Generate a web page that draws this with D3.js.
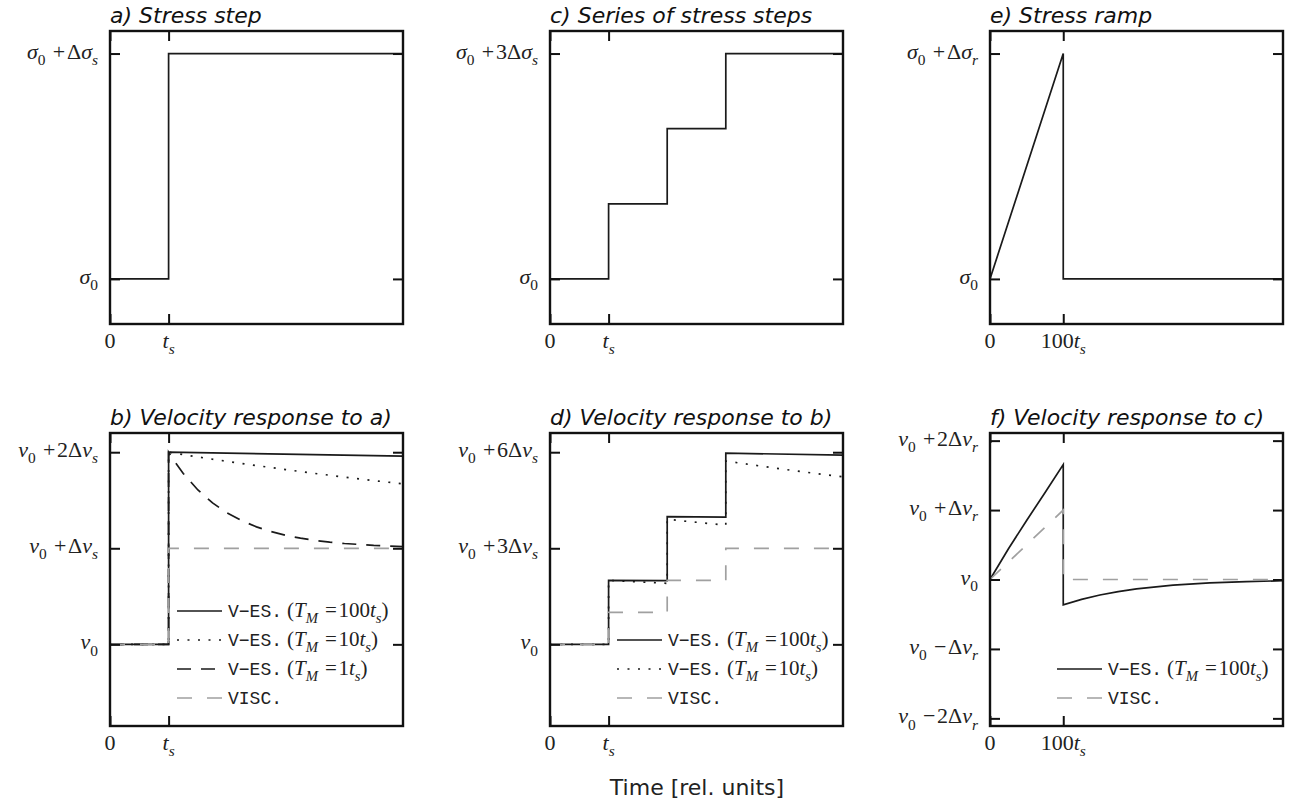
<!DOCTYPE html>
<html>
<head>
<meta charset="utf-8">
<script src="https://cdn.jsdelivr.net/npm/d3@7"></script>
<style>
  body { margin: 0; background: #fff; }
  text { white-space: pre; }
</style>
</head>
<body>
<svg id="chart" width="1291" height="809"></svg>
<script>
// ---- data ----
// a) stress step
const aTime = [0, 1, 1, 5];
const aStress = [0, 0, 1, 1];
// c) series of stress steps
const cTime = [0, 1, 1, 2, 2, 3, 3, 5];
const cStress = [0, 0, 1, 1, 2, 2, 3, 3];
// e) stress ramp
const eTime = [0, 100, 100, 400];
const eStress = [0, 1, 0, 0];

// b) velocity response to a)
const bTime100 = [0, 1, 1, 5];
const bVel100 = [0, 0, 2, 1.96];
const bTime10 = [0, 1, 1, 1.5, 2, 2.5, 3, 3.5, 4, 4.5, 5];
const bVel10 = [0, 0, 2, 1.95, 1.905, 1.861, 1.819, 1.779, 1.741, 1.705, 1.67];
const bTime1 = [0, 1, 1, 1.1, 1.25, 1.5, 1.75, 2, 2.25, 2.5, 2.75, 3, 3.25, 3.5, 3.75, 4, 4.5, 5];
const bVel1 = [0, 0, 2, 1.905, 1.779, 1.607, 1.472, 1.368, 1.287, 1.223, 1.174, 1.135, 1.105, 1.082, 1.064, 1.05, 1.03, 1.018];
const bTimeVisc = [0, 1, 1, 5];
const bVelVisc = [0, 0, 1, 1];

// d) velocity response to b)
const dTime100 = [0, 1, 1, 2, 2, 3, 3, 5];
const dVel100 = [0, 0, 2, 1.99, 3.99, 3.97, 5.97, 5.91];
const dTime10 = [0, 1, 1, 1.5, 2, 2, 2.5, 3, 3, 3.5, 4, 4.5, 5];
const dVel10 = [0, 0, 2, 1.951, 1.905, 3.905, 3.812, 3.724, 5.724, 5.591, 5.465, 5.345, 5.23];
const dTimeVisc = [0, 1, 1, 2, 2, 3, 3, 5];
const dVelVisc = [0, 0, 1, 1, 2, 2, 3, 3];

// f) velocity response to c)
const fTime100 = [0, 25, 50, 75, 100, 100, 125, 150, 175, 200, 250, 300, 350, 400];
const fVel100 = [0, 0.44, 0.85, 1.25, 1.655, -0.365, -0.287, -0.223, -0.174, -0.135, -0.082, -0.05, -0.03, -0.018];
const fTimeVisc = [0, 100, 100, 400];
const fVelVisc = [0, 1, 0, 0];

// ticks
const stepXTicks = [0, 1];
const stepXLabels = ["0", "t_s"];
const rampXTicks = [0, 100];
const rampXLabels = ["0", "100t_s"];
const aYTicks = [0, 1];
const aYLabels = ["σ_0", "σ_0 +Δσ_s"];
const cYTicks = [0, 3];
const cYLabels = ["σ_0", "σ_0 +3Δσ_s"];
const eYTicks = [0, 1];
const eYLabels = ["σ_0", "σ_0 +Δσ_r"];
const bYTicks = [0, 1, 2];
const bYLabels = ["v_0", "v_0 +Δv_s", "v_0 +2Δv_s"];
const dYTicks = [0, 3, 6];
const dYLabels = ["v_0", "v_0 +3Δv_s", "v_0 +6Δv_s"];
const fYTicks = [-2, -1, 0, 1, 2];
const fYLabels = ["v_0 −2Δv_r", "v_0 −Δv_r", "v_0", "v_0 +Δv_r", "v_0 +2Δv_r"];

// legend names: [typewriter part, math part]
const nameVes100 = ["V−ES.", "(T_M =100t_s)"];
const nameVes10 = ["V−ES.", "(T_M =10t_s)"];
const nameVes1 = ["V−ES.", "(T_M =1t_s)"];
const nameVisc = ["VISC.", ""];

// ---- styles ----
const styles = {
  solid:  {stroke: "#1a1a1a", dash: null},
  dotted: {stroke: "#1a1a1a", dash: "2,8.5"},
  dashed: {stroke: "#1a1a1a", dash: "14,10"},
  grey:   {stroke: "#a0a0a0", dash: "15,15"}
};

const svg = d3.select("#chart");
const size = 293;
const colX = [110, 550, 990];
const rowY = [31, 433];
const titleSize = 22;
const tickSize = 22;

// write a label with simple _sub markup, italic letters like TeX math
function mathText(text, str, fsize) {
  const runs = [];
  let i = 0;
  while (i < str.length) {
    let chars, sub = false;
    if (str[i] === "_") {
      sub = true;
      if (str[i + 1] === "{") { const j = str.indexOf("}", i); chars = str.slice(i + 2, j); i = j + 1; }
      else { chars = str[i + 1]; i += 2; }
    } else { chars = str[i]; i++; }
    for (const c of chars) {
      const it = /[A-Za-zα-ω]/.test(c);
      const op = /[+−=]/.test(c);
      const last = runs[runs.length - 1];
      if (!op && last && !last.op && last.it === it && last.sub === sub) last.txt += c;
      else runs.push({txt: c, it: it, sub: sub, op: op});
    }
  }
  let shift = 0;
  runs.forEach(r => {
    const target = r.sub ? fsize * 0.28 : 0;
    const ts = text.append("tspan")
      .attr("font-style", r.it ? "italic" : "normal")
      .attr("font-size", r.sub ? fsize * 0.7 : fsize)
      .attr("dy", target - shift)
      .text(r.txt);
    // wider operator spacing, as in TeX
    if (r.op) ts.attr("dx", fsize * 0.08);
    shift = target;
  });
  // small gap after an operator
  text.selectAll("tspan").each(function(d, k, nodes) {
    if (k > 0 && /[+−=]/.test(nodes[k - 1].textContent)) d3.select(this).attr("dx", fsize * 0.08);
  });
}

function panel(opt) {
  const g = svg.append("g").attr("transform", "translate(" + opt.x0 + "," + opt.y0 + ")");
  const x = d3.scaleLinear().domain(opt.xDomain).range([0, size]);
  const y = d3.scaleLinear().domain(opt.yDomain).range([size, 0]);

  // curves
  const line = d3.line().x(d => x(d[0])).y(d => y(d[1]));
  opt.series.forEach(s => {
    const st = styles[s.style];
    g.append("path")
      .datum(d3.zip(s.t, s.v))
      .attr("d", line)
      .attr("fill", "none")
      .attr("stroke", st.stroke)
      .attr("stroke-width", 1.7)
      .attr("stroke-dasharray", st.dash);
  });

  // inward ticks on all four sides
  const ax = [
    d3.axisBottom(x).tickValues(opt.xTicks), d3.axisTop(x).tickValues(opt.xTicks),
    d3.axisLeft(y).tickValues(opt.yTicks), d3.axisRight(y).tickValues(opt.yTicks)
  ];
  const pos = ["translate(0," + size + ")", null, null, "translate(" + size + ",0)"];
  ax.forEach((a, k) => {
    const ga = g.append("g").attr("transform", pos[k])
      .call(a.tickSizeInner(-10).tickSizeOuter(0).tickFormat(""));
    ga.select(".domain").remove();
    ga.selectAll("line").attr("stroke", "#111").attr("stroke-width", 2);
  });

  // frame
  g.append("rect").attr("width", size).attr("height", size)
    .attr("fill", "none").attr("stroke", "#111").attr("stroke-width", 2.4);

  // tick labels
  opt.xTicks.forEach((v, k) => {
    const t = g.append("text").attr("x", x(v)).attr("y", size + 24)
      .attr("text-anchor", "middle").attr("font-family", "Liberation Serif")
      .attr("fill", "#222");
    mathText(t, opt.xLabels[k], tickSize);
  });
  opt.yTicks.forEach((v, k) => {
    const t = g.append("text").attr("x", -12).attr("y", y(v) + 5)
      .attr("text-anchor", "end").attr("font-family", "Liberation Serif")
      .attr("fill", "#222");
    mathText(t, opt.yLabels[k], tickSize);
  });

  // title
  g.append("text").attr("x", 0).attr("y", -8)
    .attr("font-family", "DejaVu Sans").attr("font-style", "italic")
    .attr("font-size", titleSize).attr("fill", "#111").text(opt.title);

  // legend
  if (opt.legend) {
    const n = opt.series.length;
    opt.series.forEach((s, k) => {
      const ly = 265 - (n - 1 - k) * 29;
      const st = styles[s.style];
      g.append("line").attr("x1", 67).attr("x2", 112).attr("y1", ly).attr("y2", ly)
        .attr("stroke", st.stroke).attr("stroke-width", 1.7).attr("stroke-dasharray", st.dash);
      const t = g.append("text").attr("x", 118).attr("y", ly + 6).attr("fill", "#222");
      t.append("tspan").attr("font-family", "Liberation Mono").attr("font-size", 18).text(s.name[0]);
      if (s.name[1]) {
        const m = t.append("tspan").attr("font-family", "Liberation Serif");
        m.append("tspan").attr("font-size", 20).text(" ");
        mathText(m, s.name[1], 21);
      }
    });
  }
}

panel({x0: colX[0], y0: rowY[0], title: "a) Stress step",
  xDomain: [0, 5], yDomain: [-0.2, 1.1],
  xTicks: stepXTicks, xLabels: stepXLabels, yTicks: aYTicks, yLabels: aYLabels,
  series: [{t: aTime, v: aStress, style: "solid"}]});

panel({x0: colX[1], y0: rowY[0], title: "c) Series of stress steps",
  xDomain: [0, 5], yDomain: [-0.6, 3.3],
  xTicks: stepXTicks, xLabels: stepXLabels, yTicks: cYTicks, yLabels: cYLabels,
  series: [{t: cTime, v: cStress, style: "solid"}]});

panel({x0: colX[2], y0: rowY[0], title: "e) Stress ramp",
  xDomain: [0, 400], yDomain: [-0.2, 1.1],
  xTicks: rampXTicks, xLabels: rampXLabels, yTicks: eYTicks, yLabels: eYLabels,
  series: [{t: eTime, v: eStress, style: "solid"}]});

panel({x0: colX[0], y0: rowY[1], title: "b) Velocity response to a)",
  xDomain: [0, 5], yDomain: [-0.85, 2.2], legend: true,
  xTicks: stepXTicks, xLabels: stepXLabels, yTicks: bYTicks, yLabels: bYLabels,
  series: [
    {t: bTime100, v: bVel100, style: "solid", name: nameVes100},
    {t: bTime10, v: bVel10, style: "dotted", name: nameVes10},
    {t: bTime1, v: bVel1, style: "dashed", name: nameVes1},
    {t: bTimeVisc, v: bVelVisc, style: "grey", name: nameVisc}
  ]});

panel({x0: colX[1], y0: rowY[1], title: "d) Velocity response to b)",
  xDomain: [0, 5], yDomain: [-2.55, 6.6], legend: true,
  xTicks: stepXTicks, xLabels: stepXLabels, yTicks: dYTicks, yLabels: dYLabels,
  series: [
    {t: dTime100, v: dVel100, style: "solid", name: nameVes100},
    {t: dTime10, v: dVel10, style: "dotted", name: nameVes10},
    {t: dTimeVisc, v: dVelVisc, style: "grey", name: nameVisc}
  ]});

panel({x0: colX[2], y0: rowY[1], title: "f) Velocity response to c)",
  xDomain: [0, 400], yDomain: [-2.11, 2.11], legend: true,
  xTicks: rampXTicks, xLabels: rampXLabels, yTicks: fYTicks, yLabels: fYLabels,
  series: [
    {t: fTime100, v: fVel100, style: "solid", name: nameVes100},
    {t: fTimeVisc, v: fVelVisc, style: "grey", name: nameVisc}
  ]});

// shared x label
svg.append("text").attr("x", 697).attr("y", 795).attr("text-anchor", "middle")
  .attr("font-family", "DejaVu Sans").attr("font-size", 22).attr("fill", "#222")
  .text("Time [rel. units]");
</script>
</body>
</html>
